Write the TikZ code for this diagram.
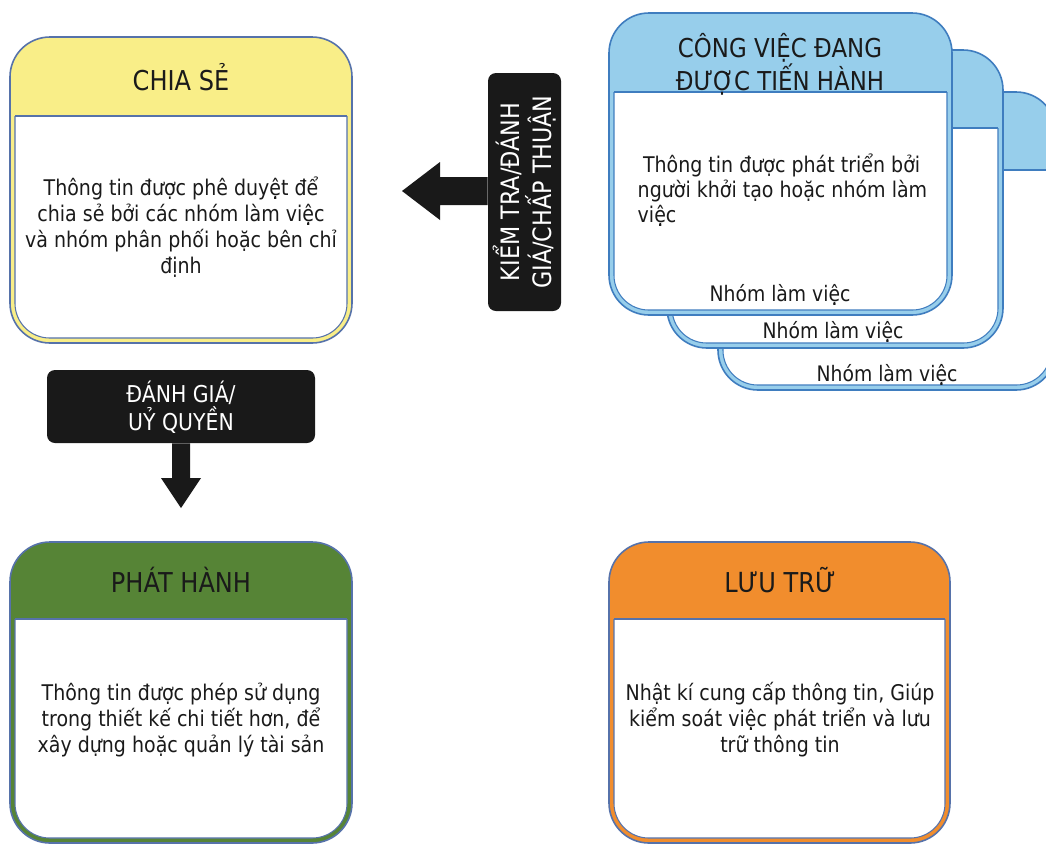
\documentclass[tikz,border=0pt]{standalone}
\usepackage{fontspec}
\setmainfont{DejaVu Sans}[FakeStretch=0.88]
\definecolor{bordC}{HTML}{5672AA}
\definecolor{yelC}{HTML}{F9EE88}
\definecolor{grnC}{HTML}{568436}
\definecolor{orgC}{HTML}{F18D2D}
\definecolor{bluC}{HTML}{97CEEB}
\definecolor{cardB}{HTML}{3F7DBF}
\definecolor{txtC}{HTML}{1A1A1A}
\newcommand\mypanel[7]{%
  \draw[line width=1.2pt, draw=#1, fill=#7, rounded corners=30pt] (#2,#3) rectangle (#4,#5);
  \begin{scope}
    \clip (#2,#6) rectangle (#4,#5+10);
    \draw[line width=0.8pt, draw=#1, fill=white, rounded corners=26pt] (#2+5,#6-60) rectangle (#4-5,#5-5);
  \end{scope}
  \draw[line width=0.8pt, draw=#1] (#2+5,#6) -- (#4-5,#6);
}
\tikzset{
  titletext/.style={text=txtC, font=\fontsize{20.5}{24}\selectfont, align=center},
  bluetitle/.style={text=txtC, font=\fontsize{19.5}{22.5}\selectfont, align=center},
  bodytext/.style={text=txtC, font=\fontsize{16.2}{19.5}\selectfont, align=center},
  grouptext/.style={text=txtC, font=\fontsize{16}{18}\selectfont},
  labeltext/.style={text=white, font=\fontsize{17.4}{21}\selectfont, align=center},
  blackbox/.style={fill=black!90, draw=none, rounded corners=6pt},
}
\begin{document}
\begin{tikzpicture}[x=0.75pt,y=-0.75pt]
\useasboundingbox (0,0) rectangle (1046,843);
\fill[white] (0,0) rectangle (1046,843);

% CHIA SE
\mypanel{bordC}{10}{37}{352}{343}{116}{yelC}
\node[titletext] (chiaT) at (181,77) {CHIA SẺ};
\node[bodytext] (chiaB) at (181,227) {Thông tin được phê duyệt để\\chia sẻ bởi các nhóm làm việc\\và nhóm phân phối hoặc bên chỉ\\định};

% PHAT HANH
\mypanel{bordC}{10}{542}{352}{843}{619}{grnC}
\node[titletext] (phatT) at (181,580) {PHÁT HÀNH};
\node[bodytext] (phatB) at (181,720) {Thông tin được phép sử dụng\\trong thiết kế chi tiết hơn, để\\xây dựng hoặc quản lý tài sản};

% LUU TRU
\mypanel{bordC}{609}{542}{950}{843}{619}{orgC}
\node[titletext] (luuT) at (780,580) {LƯU TRỮ};
\node[bodytext] (luuB) at (780,720) {Nhật kí cung cấp thông tin, Giúp\\kiểm soát việc phát triển và lưu\\trữ thông tin};

% cards
\mypanel{cardB}{718}{92}{1056}{390}{170}{bluC}
\node[grouptext] (g3) at (887,375) {Nhóm làm việc};
\mypanel{cardB}{667}{50}{1003}{348}{128}{bluC}
\node[grouptext] (g2) at (833,332) {Nhóm làm việc};
\mypanel{cardB}{609}{13}{952}{315}{92}{bluC}
\node[grouptext] (g1) at (780,295) {Nhóm làm việc};
\node[bluetitle] (congT) at (780,64) {CÔNG VIỆC ĐANG\\ĐƯỢC TIẾN HÀNH};
\node[bodytext, align=left, anchor=west, font=\fontsize{16.2}{18.8}\selectfont] (congB) at (633,190) {\hspace*{4pt}Thông tin được phát triển bởi\\người khởi tạo hoặc nhóm làm\\việc};

% review arrow
\node[blackbox, minimum width=73*0.75pt, minimum height=238*0.75pt] (kiem) at (524.5,192) {};
\node[labeltext, rotate=90, font=\fontsize{19}{24}\selectfont] (kiemT) at (kiem.center) {KIỂM TRA/ĐÁNH\\GIÁ/CHẤP THUẬN};
\fill[black!90] (kiem.west |- 0,177) -- (440,177) -- (440,162) -- (402,191) -- (440,220) -- (440,205) -- (kiem.west |- 0,205) -- cycle;

% authorise arrow
\node[blackbox, minimum width=268*0.75pt, minimum height=73*0.75pt] (danh) at (181,406.5) {};
\node[labeltext] (danhT) at (181,407) {ĐÁNH GIÁ/\\UỶ QUYỀN};
\fill[black!90] (172,0 |- danh.south) -- (172,478) -- (161,478) -- (181,508) -- (201,478) -- (190,478) -- (190,0 |- danh.south) -- cycle;
\end{tikzpicture}
\end{document}
